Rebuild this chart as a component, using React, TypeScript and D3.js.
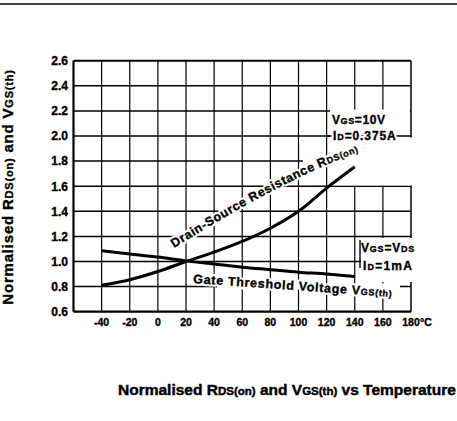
import React from 'react';
import * as d3 from 'd3';

const temps = [-40, -20, 0, 20, 40, 60, 80, 100, 120, 140];
const rdsOn = [0.81, 0.855, 0.92, 1.0, 1.075, 1.16, 1.265, 1.4, 1.585, 1.755];
const vgsTh = [1.085, 1.06, 1.035, 1.005, 0.98, 0.955, 0.935, 0.915, 0.9, 0.88];
const xTickValues = [-40, -20, 0, 20, 40, 60, 80, 100, 120, 140, 160, 180];
const yTickValues = [0.6, 0.8, 1.0, 1.2, 1.4, 1.6, 1.8, 2.0, 2.2, 2.4, 2.6];

const W = 457;
const H = 421;
const PLOT = { left: 73.5, right: 411, top: 60.7, bottom: 311.7 };
const FONT = '"Liberation Sans", Arial, Helvetica, sans-serif';
const INK = { stroke: '#000', strokeWidth: 0.35 };

export default function App() {
  const x = d3.scaleLinear().domain([-60, 180]).range([PLOT.left, PLOT.right]);
  const y = d3.scaleLinear().domain([0.6, 2.6]).range([PLOT.bottom, PLOT.top]);
  const line = d3
    .line<[number, number]>()
    .x((d) => x(d[0]))
    .y((d) => y(d[1]))
    .curve(d3.curveMonotoneX);
  const rdsPath = line(temps.map((t, i) => [t, rdsOn[i]] as [number, number])) || '';
  const vgsPath = line(temps.map((t, i) => [t, vgsTh[i]] as [number, number])) || '';

  const haloStyle = { fill: 'none', stroke: '#fff', strokeWidth: 4.5, strokeLinejoin: 'round' as const };

  const rdsLabel = (
    <>
      Drain-Source Resistance R<tspan fontSize={9}>DS(on)</tspan>
    </>
  );
  const gateLabel = (
    <>
      Gate Threshold Voltage V<tspan fontSize={9}>GS(th)</tspan>
    </>
  );
  const idLabel1 = (
    <>
      I<tspan fontSize={9}>D</tspan>=0.375A
    </>
  );
  const idLabel2 = (
    <>
      I<tspan fontSize={9}>D</tspan>=1mA
    </>
  );

  return (
    <svg
      width={W}
      height={H}
      viewBox={`0 0 ${W} ${H}`}
      style={{ position: 'absolute', left: 0, top: 0, background: '#fff' }}
      fontFamily={FONT}
      fontWeight="bold"
    >
      <rect x={0} y={0} width={W} height={H} fill="#fff" />
      {/* scan border line at top */}
      <line x1={0} x2={W} y1={4} y2={4} stroke="#000" strokeWidth={1.6} />

      {/* grid */}
      {yTickValues.slice(1, -1).map((v) => (
        <line key={'h' + v} x1={PLOT.left} x2={PLOT.right} y1={y(v)} y2={y(v)} stroke="#000" strokeWidth={1.5} />
      ))}
      {xTickValues.slice(0, -1).map((v) => (
        <line key={'v' + v} x1={x(v)} x2={x(v)} y1={PLOT.top} y2={PLOT.bottom} stroke="#000" strokeWidth={1.2} />
      ))}

      {/* masks (white areas in the original) */}
      <rect x={330} y={109.5} width={80} height={76} fill="#fff" />
      <rect x={409} y={137.5} width={4} height={48} fill="#fff" />
      <rect x={303} y={157} width={26} height={7} fill="#fff" />
      <rect x={217} y={283.5} width={183} height={6} fill="#fff" />
      <rect x={361} y={238} width={52} height={44} fill="#fff" />

      {/* frame */}
      <line x1={PLOT.left} x2={PLOT.right} y1={PLOT.top} y2={PLOT.top} stroke="#000" strokeWidth={2} />
      <line x1={PLOT.left} x2={PLOT.right} y1={PLOT.bottom} y2={PLOT.bottom} stroke="#000" strokeWidth={2.2} />
      <line x1={PLOT.left} x2={PLOT.left} y1={PLOT.top} y2={PLOT.bottom} stroke="#000" strokeWidth={2.2} />
      <line x1={PLOT.right} x2={PLOT.right} y1={PLOT.top} y2={137.5} stroke="#000" strokeWidth={1.5} />
      <line x1={PLOT.right} x2={PLOT.right} y1={185.5} y2={238} stroke="#000" strokeWidth={1.5} />
      <line x1={PLOT.right} x2={PLOT.right} y1={282} y2={PLOT.bottom} stroke="#000" strokeWidth={1.5} />
      {/* annotation box pieces */}
      <line x1={x(120)} x2={PLOT.right} y1={y(2.0)} y2={y(2.0)} stroke="#000" strokeWidth={1.5} />
      <line x1={360} x2={360} y1={240} y2={268} stroke="#000" strokeWidth={1.4} />

      {/* curves */}
      <path d={rdsPath} fill="none" stroke="#000" strokeWidth={3} />
      <path d={vgsPath} fill="none" stroke="#000" strokeWidth={3} />

      {/* y tick labels */}
      {yTickValues.map((v) => (
        <text key={'yl' + v} x={68} y={y(v) + 4.3} textAnchor="end" fontSize={12} {...INK}>
          {v.toFixed(1)}
        </text>
      ))}
      {/* x tick labels */}
      {xTickValues.map((v) => (
        <text key={'xl' + v} x={x(v)} y={326} textAnchor="middle" fontSize={10.5} {...INK}>
          {v}
        </text>
      ))}
      <text x={x(180) + 9} y={326} textAnchor="start" fontSize={10.5} {...INK}>°C</text>

      {/* curve labels */}
      <path id="rdsLabelPath" d="M174,248 Q287,177 364,150" fill="none" stroke="none" />
      <text fontSize={12.5} letterSpacing={0.6} style={haloStyle}>
        <textPath href="#rdsLabelPath">{rdsLabel}</textPath>
      </text>
      <text fontSize={12.5} letterSpacing={0.6} {...INK}>
        <textPath href="#rdsLabelPath">{rdsLabel}</textPath>
      </text>
      <g transform="rotate(4 193 283)">
        <text x={193} y={283} fontSize={12.5} letterSpacing={0.7} style={haloStyle}>
          {gateLabel}
        </text>
        <text x={193} y={283} fontSize={12.5} letterSpacing={0.7} {...INK}>
          {gateLabel}
        </text>
      </g>

      {/* annotations */}
      <text x={332} y={124} fontSize={12} letterSpacing={0.6} {...INK}>
        V<tspan fontSize={9}>GS</tspan>=10V
      </text>
      <text x={333} y={140} fontSize={12} letterSpacing={0.9} style={haloStyle}>
        {idLabel1}
      </text>
      <text x={333} y={140} fontSize={12} letterSpacing={0.9} {...INK}>
        {idLabel1}
      </text>
      <text x={361} y={252} fontSize={12} letterSpacing={0.8} {...INK}>
        V<tspan fontSize={9}>GS</tspan>=V<tspan fontSize={9}>DS</tspan>
      </text>
      <text x={363} y={270} fontSize={12} letterSpacing={1.2} style={haloStyle}>
        {idLabel2}
      </text>
      <text x={363} y={270} fontSize={12} letterSpacing={1.2} {...INK}>
        {idLabel2}
      </text>

      {/* y axis title */}
      <text
        transform="translate(12.5,187) rotate(-90)"
        textAnchor="middle"
        fontSize={15}
        letterSpacing={0.8}
        {...INK}
      >
        Normalised R<tspan fontSize={11}>DS(on)</tspan> and V<tspan fontSize={11}>GS(th)</tspan>
      </text>

      {/* title */}
      <text x={118} y={395} fontSize={15.5} stroke="#000" strokeWidth={0.45}>
        Normalised R<tspan fontSize={11.5}>DS(on)</tspan> and V<tspan fontSize={11.5}>GS(th)</tspan> vs Temperature
      </text>
    </svg>
  );
}
